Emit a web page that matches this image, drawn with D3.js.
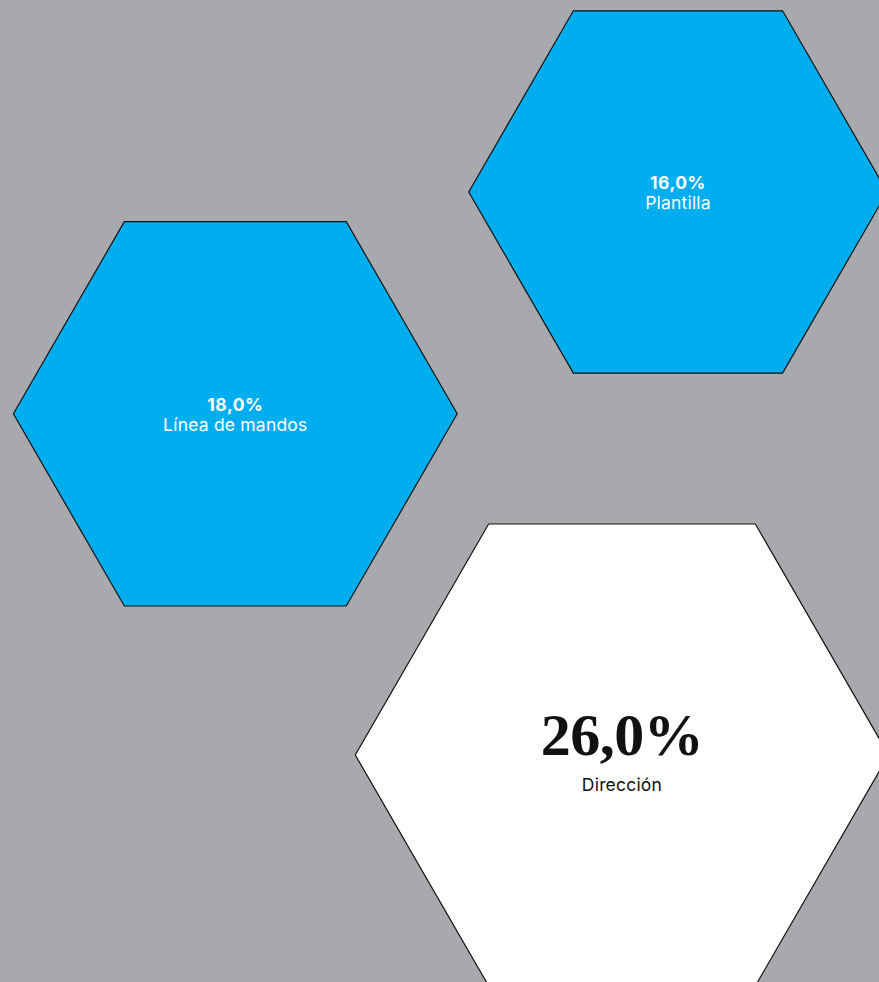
<!DOCTYPE html>
<html>
<head>
<meta charset="utf-8">
<script src="https://cdn.jsdelivr.net/npm/d3@7"></script>
<style>
  html, body { margin: 0; padding: 0; background: #a8a9ad; }
  svg { display: block; }
</style>
</head>
<body>
<div id="chart"></div>
<script>
// ---- data ----
const categories = ["Plantilla", "Línea de mandos", "Dirección"];
const values = [16.0, 18.0, 26.0];
const valueLabels = ["16,0%", "18,0%", "26,0%"];

// ---- layout (relative positions of hexagon centres, 0..1 of the frame) ----
const layoutX = [0.7713, 0.2677, 0.7076];
const layoutY = [0.1955, 0.4214, 0.7688];
const fills = ["#00aeef", "#00aeef", "#ffffff"];
const textColors = ["#ffffff", "#ffffff", "#111111"];
const highlight = [false, false, true];

const W = 879, H = 982;
const svg = d3.select("#chart").append("svg")
  .attr("width", W).attr("height", H);

svg.append("rect").attr("width", W).attr("height", H).attr("fill", "#a8a9ad");

const x = d3.scaleLinear().domain([0, 1]).range([0, W]);
const y = d3.scaleLinear().domain([0, 1]).range([0, H]);
const r = d3.scaleSqrt().domain([0, 26]).range([0, 266.7]);

const data = categories.map((c, i) => ({
  cat: c, v: values[i], lab: valueLabels[i],
  cx: x(layoutX[i]), cy: y(layoutY[i]),
  fill: fills[i], tc: textColors[i], hi: highlight[i]
}));

function hexPoints(cx, cy, rad) {
  return d3.range(6).map(k => {
    const a = k * Math.PI / 3;
    return [cx + rad * Math.cos(a), cy + rad * Math.sin(a)];
  });
}

const line = d3.line().curve(d3.curveLinearClosed);

const g = svg.selectAll("g.hex").data(data).enter().append("g").attr("class", "hex");

g.append("path")
  .attr("d", d => line(hexPoints(d.cx, d.cy, r(d.v))))
  .attr("fill", d => d.fill)
  .attr("stroke", "#111")
  .attr("stroke-width", 1.2)
  .attr("stroke-linejoin", "miter");

g.append("text")
  .attr("x", d => d.cx)
  .attr("y", d => d.hi ? d.cy : d.cy - 3)
  .attr("text-anchor", "middle")
  .attr("fill", d => d.tc)
  .style("font-family", d => d.hi ? "'Liberation Serif', 'DejaVu Serif', serif" : "Inter, 'Noto Sans', sans-serif")
  .style("font-weight", "bold")
  .style("font-size", d => d.hi ? "60px" : "17.5px")
  .style("letter-spacing", d => d.hi ? "-0.5px" : "0.5px")
  .text(d => d.lab);

g.append("text")
  .attr("x", d => d.cx)
  .attr("y", d => d.hi ? d.cy + 36 : d.cy + 17.5)
  .attr("text-anchor", "middle")
  .attr("fill", d => d.tc)
  .style("font-family", "Inter, 'Noto Sans', sans-serif")
  .style("font-weight", "400")
  .style("font-size", "17.5px")
  .style("letter-spacing", "0.2px")
  .text(d => d.cat);
</script>
</body>
</html>
